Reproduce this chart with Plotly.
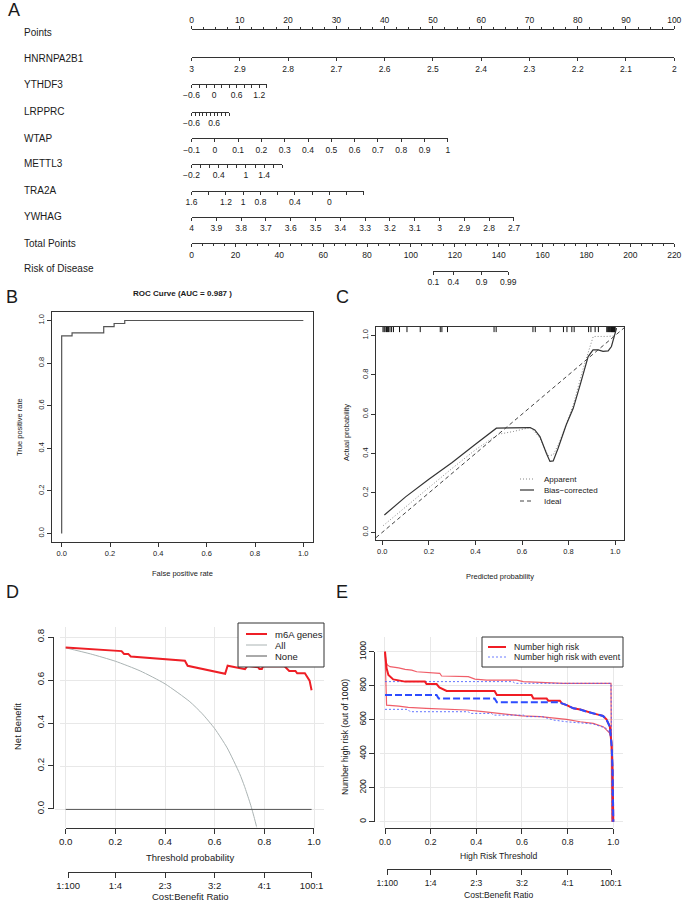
import plotly.graph_objects as go

W, H = 685, 904
FONT = "Liberation Sans, Arial, Helvetica, sans-serif"
INK = "#333333"
TXT = "#1a1a1a"

# ---------------- Panel A: nomogram data ----------------
nomo_names = ["Points", "HNRNPA2B1", "YTHDF3", "LRPPRC", "WTAP", "METTL3",
              "TRA2A", "YWHAG", "Total Points", "Risk of Disease"]

points_ticks = [0, 10, 20, 30, 40, 50, 60, 70, 80, 90, 100]
points_minor = [k * 2.5 for k in range(41) if k % 4]

hnrnpa2b1_ticks = [3.0, 2.9, 2.8, 2.7, 2.6, 2.5, 2.4, 2.3, 2.2, 2.1, 2.0]
hnrnpa2b1_labels = ["3", "2.9", "2.8", "2.7", "2.6", "2.5", "2.4", "2.3", "2.2", "2.1", "2"]
hnrnpa2b1_points = 100

ythdf3_ticks = [-0.6, -0.4, -0.2, 0.0, 0.2, 0.4, 0.6, 0.8, 1.0, 1.2, 1.4]
ythdf3_labels = ["\u22120.6", "", "", "0", "", "", "0.6", "", "", "1.2", ""]
ythdf3_points = 15.6

lrpprc_ticks = [-0.6, -0.4, -0.2, 0.0, 0.2, 0.4, 0.6, 0.8, 1.0, 1.2, 1.4]
lrpprc_labels = ["\u22120.6", "", "", "", "", "", "0.6", "", "", "", ""]
lrpprc_points = 7.8

wtap_ticks = [-0.1, 0.0, 0.1, 0.2, 0.3, 0.4, 0.5, 0.6, 0.7, 0.8, 0.9, 1.0]
wtap_labels = ["\u22120.1", "0", "0.1", "0.2", "0.3", "0.4", "0.5", "0.6", "0.7", "0.8", "0.9", "1"]
wtap_points = 53.1

mettl3_ticks = [-0.2, 0.0, 0.2, 0.4, 0.6, 0.8, 1.0, 1.2, 1.4, 1.6, 1.8]
mettl3_labels = ["\u22120.2", "", "", "0.4", "", "", "1", "", "1.4", "", ""]
mettl3_points = 18.8

tra2a_ticks = [1.6, 1.4, 1.2, 1.0, 0.8, 0.6, 0.4, 0.2, 0.0, -0.2, -0.4]
tra2a_labels = ["1.6", "", "1.2", "1", "0.8", "", "0.4", "", "0", "", ""]
tra2a_points = 35.7

ywhag_ticks = [4.0, 3.9, 3.8, 3.7, 3.6, 3.5, 3.4, 3.3, 3.2, 3.1, 3.0, 2.9, 2.8, 2.7]
ywhag_labels = ["4", "3.9", "3.8", "3.7", "3.6", "3.5", "3.4", "3.3", "3.2", "3.1", "3", "2.9", "2.8", "2.7"]
ywhag_points = 66.8

total_ticks = [0, 20, 40, 60, 80, 100, 120, 140, 160, 180, 200, 220]
total_minor = [v for v in range(0, 221, 5) if v % 20]

risk_labels = ["0.1", "0.4", "0.9", "0.99"]
risk_total_points = [110.2, 119.3, 132.2, 144.3]

# ---------------- Panel B: ROC ----------------
roc_fpr = [0.0, 0.0, 0.043, 0.174, 0.217, 0.261, 1.0]
roc_tpr = [0.0, 0.928, 0.942, 0.971, 0.986, 1.0, 1.0]

# ---------------- Panel C: calibration ----------------
cal_rug = [0.003, 0.008, 0.012, 0.018, 0.022, 0.027, 0.033, 0.040, 0.048, 0.074, 0.106,
           0.163, 0.249, 0.256, 0.280, 0.480, 0.489, 0.647, 0.657, 0.721, 0.778, 0.793,
           0.814, 0.824, 0.886, 0.896, 0.914, 0.928, 0.964, 0.968, 0.972, 0.975, 0.978,
           0.981, 0.984, 0.986, 0.988, 0.990, 0.992, 0.994, 0.996, 0.998, 1.0]
app_x = [0.004, 0.10, 0.205, 0.30, 0.40, 0.498, 0.562, 0.634, 0.655, 0.677, 0.70, 0.712,
         0.734, 0.762, 0.79, 0.82, 0.863, 0.906, 0.963, 1.0]
app_y = [0.034, 0.13, 0.232, 0.325, 0.419, 0.498, 0.512, 0.532, 0.51, 0.478, 0.42, 0.39,
         0.393, 0.461, 0.55, 0.647, 0.834, 0.995, 0.995, 0.998]
bc_x = [0.009, 0.10, 0.20, 0.30, 0.40, 0.49, 0.55, 0.635, 0.655, 0.677, 0.705, 0.72, 0.734,
        0.755, 0.79, 0.82, 0.85, 0.884, 0.905, 0.927, 0.948, 0.97, 0.984, 0.994, 1.006]
bc_y = [0.088, 0.18, 0.27, 0.355, 0.447, 0.529, 0.531, 0.532, 0.52, 0.486, 0.40, 0.36, 0.363,
        0.427, 0.546, 0.63, 0.75, 0.893, 0.927, 0.927, 0.919, 0.922, 0.944, 0.986, 1.037]
ideal_x = [-0.05, 1.05]
ideal_y = [-0.05, 1.05]
cal_legend = ["Apparent", "Bias\u2212corrected", "Ideal"]

# ---------------- Panel D: decision curve ----------------
dca_all_x = [0.0, 0.1, 0.2, 0.3, 0.4, 0.5, 0.55, 0.6, 0.65, 0.7, 0.72, 0.74, 0.75, 0.76, 0.77]
dca_all_y = [0.75, 0.722, 0.688, 0.643, 0.583, 0.5, 0.444, 0.375, 0.286, 0.167, 0.107, 0.038, 0.0, -0.042, -0.087]
dca_none_x = [0.0, 0.99]
dca_none_y = [0.0, 0.0]
dca_m6a_x = [0.0, 0.225, 0.235, 0.252, 0.262, 0.48, 0.491, 0.642, 0.652, 0.722, 0.732, 0.775,
             0.78, 0.79, 0.795, 0.88, 0.885, 0.9, 0.925, 0.932, 0.963, 0.972, 0.982, 0.99]
dca_m6a_y = [0.752, 0.735, 0.722, 0.722, 0.71, 0.69, 0.667, 0.63, 0.667, 0.651, 0.667, 0.66,
             0.652, 0.652, 0.665, 0.665, 0.66, 0.643, 0.643, 0.632, 0.632, 0.613, 0.598, 0.553]
dca_legend = ["m6A genes", "All", "None"]

cost_labels = ["1:100", "1:4", "2:3", "3:2", "4:1", "100:1"]
cost_thresholds = [0.0099, 0.2, 0.4, 0.6, 0.8, 0.9901]

# ---------------- Panel E: clinical impact ----------------
nhr_x = [0.0, 0.003, 0.007, 0.015, 0.036, 0.088, 0.175, 0.182, 0.226, 0.238, 0.27, 0.48, 0.49,
         0.642, 0.65, 0.708, 0.715, 0.766, 0.775, 0.796, 0.825, 0.855, 0.883, 0.912, 0.942,
         0.955, 0.97, 0.985, 0.993, 0.997, 1.0]
nhr_y = [1000, 940, 902, 863, 837, 824, 824, 810, 810, 790, 769, 769, 745, 745, 725, 725, 712,
         712, 696, 686, 667, 660, 647, 637, 627, 622, 602, 559, 441, 300, 0]
nhr_hi_x = [0.0, 0.004, 0.01, 0.022, 0.06, 0.088, 0.117, 0.139, 0.24, 0.248, 0.365, 0.394,
            0.445, 0.577, 0.606, 0.78, 0.99, 0.993]
nhr_hi_y = [1000, 940, 922, 912, 905, 896, 892, 882, 873, 857, 853, 839, 833, 833, 824, 814, 814, 0]
nhr_lo_x = [0.0, 0.005, 0.007, 0.06, 0.102, 0.18, 0.358, 0.43, 0.533, 0.6, 0.68, 0.795, 0.855,
            0.912, 0.956, 0.985, 0.993, 0.997]
nhr_lo_y = [1000, 800, 686, 680, 672, 667, 657, 647, 633, 622, 618, 602, 588, 578, 559, 520, 480, 0]
nev_x = [0.0, 0.226, 0.235, 0.48, 0.49, 0.766, 0.775, 0.796, 0.825, 0.855, 0.883, 0.912, 0.942,
         0.955, 0.97, 0.985, 0.993, 0.997, 1.0]
nev_y = [745, 745, 725, 725, 702, 702, 696, 686, 667, 660, 647, 637, 627, 622, 602, 559, 441, 300, 0]
nev_hi_x = [0.0, 0.56, 0.57, 0.99, 0.995]
nev_hi_y = [824, 824, 814, 814, 0]
nev_lo_x = [0.0, 0.1, 0.11, 0.365, 0.372, 0.467, 0.474, 0.606, 0.62, 0.69, 0.737, 0.795, 0.912,
            0.97, 0.985, 0.993, 0.997]
nev_lo_y = [661, 661, 647, 647, 637, 637, 627, 627, 618, 618, 598, 588, 575, 549, 520, 480, 0]
impact_legend = ["Number high risk", "Number high risk with event"]

tick01 = [0.0, 0.2, 0.4, 0.6, 0.8, 1.0]
tick01_txt = ["0.0", "0.2", "0.4", "0.6", "0.8", "1.0"]
tick08 = [0.0, 0.2, 0.4, 0.6, 0.8]
tick08_txt = ["0.0", "0.2", "0.4", "0.6", "0.8"]
tick1000 = [0, 200, 400, 600, 800, 1000]
tick1000_txt = ["0", "200", "400", "600", "800", "1000"]

# ======================= figure construction =======================
layout = dict(width=W, height=H, margin=dict(l=0, r=0, t=0, b=0, pad=0, autoexpand=False),
              paper_bgcolor="white", plot_bgcolor="white",
              font=dict(family=FONT, color=TXT), showlegend=False)
annotations = []
shapes = []
traces = []
n_ax = [0]

HIDDEN = dict(showline=False, showticklabels=False, showgrid=False, zeroline=False, ticks="")


def pair(xpx, ypx, xkw, ykw):
    n_ax[0] += 1
    s = "" if n_ax[0] == 1 else str(n_ax[0])
    xd = dict(domain=[xpx[0] / W, xpx[1] / W], anchor="y" + s, fixedrange=True, automargin=False)
    xd.update(xkw)
    yd = dict(domain=[1 - ypx[1] / H, 1 - ypx[0] / H], anchor="x" + s, fixedrange=True, automargin=False)
    yd.update(ykw)
    layout["xaxis" + s] = xd
    layout["yaxis" + s] = yd
    return "x" + s, "y" + s


def axis_style(size, ticklen=4, **kw):
    d = dict(showline=True, linecolor=INK, linewidth=1, ticks="outside", ticklen=ticklen,
             tickwidth=1, tickcolor=INK, showgrid=False, zeroline=False, tickmode="array",
             tickfont=dict(size=size, family=FONT, color=TXT))
    d.update(kw)
    return d


def pad(r):
    e = (r[1] - r[0]) * 1e-4
    return [r[0] - e, r[1] + e]


def anchor_trace(xn, yn, x, y):
    traces.append(go.Scatter(x=[x], y=[y], xaxis=xn, yaxis=yn, mode="markers",
                             marker=dict(size=1, opacity=0), hoverinfo="skip", showlegend=False))


def text(x, y, s, size, angle=0, xanchor="center", bold=False):
    annotations.append(dict(x=x / W, y=1 - y / H, xref="paper", yref="paper",
                            text=("<b>%s</b>" % s) if bold else s, showarrow=False,
                            xanchor=xanchor, yanchor="middle", textangle=angle,
                            font=dict(size=size, family=FONT, color=TXT)))


def legend_box(x0, y0, x1, y1):
    shapes.append(dict(type="rect", xref="paper", yref="paper", layer="above",
                       x0=x0 / W, x1=x1 / W, y0=1 - y1 / H, y1=1 - y0 / H,
                       fillcolor="white", line=dict(color=INK, width=1)))


def legend_key(x0, x1, y, color, width, dash="solid"):
    shapes.append(dict(type="line", xref="paper", yref="paper", layer="above",
                       x0=x0 / W, x1=x1 / W, y0=1 - y / H, y1=1 - y / H,
                       line=dict(color=color, width=width, dash=dash)))


# ---------------- Panel A ----------------
A_X0, A_PPP = 191.5, 4.828
A_LINE_Y = [30, 57.3, 84, 111.7, 138.3, 164, 190.7, 216.7, 243.3, 270.7]
A_LABEL_Y = [32, 58.5, 85, 112, 138.5, 164, 190, 216, 243, 269]


def nomo_row(line_y, vrange, x0px, x1px, tickvals, ticktext, side="bottom", minor=None):
    ypx = (line_y - 1, line_y) if side == "bottom" else (line_y, line_y + 1)
    xkw = axis_style(8.5, 3, range=pad(vrange), tickvals=tickvals, ticktext=ticktext, side=side)
    if minor:
        xkw["minor"] = dict(tickmode="array", tickvals=minor, ticks="outside", ticklen=1.8,
                            tickcolor=INK, tickwidth=1)
    xn, yn = pair((x0px, x1px), ypx, xkw, dict(HIDDEN, range=[0, 1]))
    anchor_trace(xn, yn, vrange[0], 0.5)


nomo_row(A_LINE_Y[0], [0, 100], A_X0, A_X0 + 100 * A_PPP, points_ticks,
         [str(v) for v in points_ticks], side="top", minor=points_minor)
var_rows = [
    (hnrnpa2b1_ticks, hnrnpa2b1_labels, hnrnpa2b1_points),
    (ythdf3_ticks, ythdf3_labels, ythdf3_points),
    (lrpprc_ticks, lrpprc_labels, lrpprc_points),
    (wtap_ticks, wtap_labels, wtap_points),
    (mettl3_ticks, mettl3_labels, mettl3_points),
    (tra2a_ticks, tra2a_labels, tra2a_points),
    (ywhag_ticks, ywhag_labels, ywhag_points),
]
for i, (tv, tt, pts) in enumerate(var_rows):
    nomo_row(A_LINE_Y[i + 1], [tv[0], tv[-1]], A_X0, A_X0 + pts * A_PPP, tv, tt)

TP_PPU = 100 * A_PPP / 220.0
nomo_row(A_LINE_Y[8], [0, 220], A_X0, A_X0 + 220 * TP_PPU, total_ticks,
         [str(v) for v in total_ticks], minor=total_minor)
nomo_row(A_LINE_Y[9], [risk_total_points[0], risk_total_points[-1]],
         A_X0 + risk_total_points[0] * TP_PPU, A_X0 + risk_total_points[-1] * TP_PPU,
         risk_total_points, risk_labels)

for name, ly in zip(nomo_names, A_LABEL_Y):
    text(22, ly, name, 10, xanchor="left")

# ---------------- Panel B ----------------
xb, yb = pair((52, 313), (312, 542),
              axis_style(7.5, 4, range=[-0.04, 1.04], tickvals=tick01, ticktext=tick01_txt, mirror=True),
              axis_style(7.5, 4, range=[-0.04, 1.04], tickvals=tick01, ticktext=tick01_txt, mirror=True,
                         tickangle=-90))
traces.append(go.Scatter(x=roc_fpr, y=roc_tpr, xaxis=xb, yaxis=yb, mode="lines", line_shape="hv",
                         line=dict(color="#555555", width=1.2), showlegend=False, hoverinfo="skip"))
text(183, 293, "ROC Curve (AUC = 0.987 )", 8, bold=True)
text(182, 573, "False positive rate", 7.5)
text(20, 427, "True positive rate", 7.5, angle=-90)

# ---------------- Panel C ----------------
xc, yc = pair((376, 624), (327, 540),
              axis_style(7.5, 4, range=[-0.027, 1.038], tickvals=tick01, ticktext=tick01_txt, mirror=True),
              axis_style(7.5, 4, range=[-0.039, 1.043], tickvals=tick01, ticktext=tick01_txt, mirror=True,
                         tickangle=-90))
rug_x, rug_y = [], []
for v in cal_rug:
    rug_x += [v, v, None]
    rug_y += [1.043, 1.017, None]
C_STYLES = [dict(color="#888888", width=1, dash="1px,2px"),
            dict(color="#333333", width=1.2, dash="solid"),
            dict(color="#444444", width=1, dash="4px,3px")]
traces.append(go.Scatter(x=rug_x, y=rug_y, xaxis=xc, yaxis=yc, mode="lines",
                         line=dict(color="#111111", width=1), showlegend=False, hoverinfo="skip"))
for xs, ys, st in zip([app_x, bc_x, ideal_x], [app_y, bc_y, ideal_y], C_STYLES):
    traces.append(go.Scatter(x=xs, y=ys, xaxis=xc, yaxis=yc, mode="lines", line=st,
                             showlegend=False, hoverinfo="skip"))
for k, (lab, st) in enumerate(zip(cal_legend, C_STYLES)):
    yy = 479 + 11 * k
    legend_key(520, 534, yy, st["color"], st["width"], st["dash"])
    text(542, yy, lab, 8, xanchor="left")
text(500, 576, "Predicted probability", 7.5)
text(346, 433, "Actual probability", 7.5, angle=-90)

# ---------------- Panel D ----------------
GRID = dict(showline=False, ticks="", showticklabels=False, zeroline=False, showgrid=True,
            gridcolor="#e8e8e8", gridwidth=1, tickmode="array")
D_X0, D_PPU = 65.7, 248.3
xd, yd = pair((55, 324), (627, 827.5), dict(GRID, range=[-0.043, 1.040], tickvals=tick01),
              dict(GRID, range=[-0.084, 0.847], tickvals=tick08))
D_STYLES = [dict(color="#ee1f26", width=2), dict(color="#aab3b3", width=1),
            dict(color="#555555", width=1)]
traces.append(go.Scatter(x=dca_all_x, y=dca_all_y, xaxis=xd, yaxis=yd, mode="lines",
                         line=dict(D_STYLES[1], shape="spline", smoothing=0.6),
                         showlegend=False, hoverinfo="skip"))
traces.append(go.Scatter(x=dca_none_x, y=dca_none_y, xaxis=xd, yaxis=yd, mode="lines",
                         line=D_STYLES[2], showlegend=False, hoverinfo="skip"))
traces.append(go.Scatter(x=dca_m6a_x, y=dca_m6a_y, xaxis=xd, yaxis=yd, mode="lines",
                         line=D_STYLES[0], showlegend=False, hoverinfo="skip"))
legend_box(238, 623, 324, 667)
for k, (lab, st) in enumerate(zip(dca_legend, D_STYLES)):
    yy = 634 + 11 * k
    legend_key(246, 267, yy, st["color"], st["width"])
    text(273, yy, lab, 9.5, xanchor="left")
# y axis line
xn, yn = pair((54.3, 60), (637, 809), dict(HIDDEN, range=[0, 1]),
              axis_style(9.8, 5, range=pad([0, 0.8]), tickvals=tick08, ticktext=tick08_txt, tickangle=-90))
anchor_trace(xn, yn, 0.5, 0.4)
# threshold axis
xn, yn = pair((D_X0, D_X0 + D_PPU), (826.5, 827.5),
              axis_style(9.8, 5, range=pad([0, 1]), tickvals=tick01, ticktext=tick01_txt),
              dict(HIDDEN, range=[0, 1]))
anchor_trace(xn, yn, 0.5, 0.5)
# cost:benefit axis
xn, yn = pair((D_X0 + cost_thresholds[0] * D_PPU, D_X0 + cost_thresholds[-1] * D_PPU), (871, 872),
              axis_style(9.5, 5, range=pad([cost_thresholds[0], cost_thresholds[-1]]),
                         tickvals=cost_thresholds, ticktext=cost_labels),
              dict(HIDDEN, range=[0, 1]))
anchor_trace(xn, yn, 0.5, 0.5)
text(190, 857, "Threshold probability", 9.5)
text(190, 896, "Cost:Benefit Ratio", 9.5)
text(17, 727, "Net Benefit", 9.5, angle=-90)

# ---------------- Panel E ----------------
E_FS = 8.6
E_X0, E_PPU = 385.0, 228.3
xe, ye = pair((377, 623), (637.3, 828.3), dict(GRID, range=[-0.035, 1.0425], tickvals=tick01),
              dict(GRID, range=[-38.8, 1084.7], tickvals=tick1000))
CI_RED = "rgba(235,40,55,0.75)"
CI_BLUE = "rgba(70,90,255,0.85)"
traces.append(go.Scatter(x=nhr_hi_x, y=nhr_hi_y, xaxis=xe, yaxis=ye, mode="lines",
                         line=dict(color=CI_RED, width=1.2), showlegend=False, hoverinfo="skip"))
traces.append(go.Scatter(x=nhr_lo_x, y=nhr_lo_y, xaxis=xe, yaxis=ye, mode="lines",
                         line=dict(color=CI_RED, width=1.2), showlegend=False, hoverinfo="skip"))
traces.append(go.Scatter(x=nev_hi_x, y=nev_hi_y, xaxis=xe, yaxis=ye, mode="lines",
                         line=dict(color=CI_BLUE, width=1, dash="2px,2px"), showlegend=False,
                         hoverinfo="skip"))
traces.append(go.Scatter(x=nev_lo_x, y=nev_lo_y, xaxis=xe, yaxis=ye, mode="lines",
                         line=dict(color=CI_BLUE, width=1, dash="2px,2px"), showlegend=False,
                         hoverinfo="skip"))
traces.append(go.Scatter(x=nhr_x, y=nhr_y, xaxis=xe, yaxis=ye, mode="lines",
                         line=dict(color="#f01c24", width=2), showlegend=False, hoverinfo="skip"))
traces.append(go.Scatter(x=nev_x, y=nev_y, xaxis=xe, yaxis=ye, mode="lines",
                         line=dict(color="#2d4cff", width=2, dash="7px,3px"), showlegend=False,
                         hoverinfo="skip"))
legend_box(482, 637, 623, 667)
E_KEYS = [dict(color="#f01c24", width=2, dash="solid"), dict(color="#6c7dff", width=1, dash="2px,2px")]
for k, (lab, st) in enumerate(zip(impact_legend, E_KEYS)):
    yy = 647 + 10 * k
    legend_key(488, 506, yy, st["color"], st["width"], st["dash"])
    text(512, yy, lab, E_FS, xanchor="left")
xn, yn = pair((375, 380), (651.7, 821.7), dict(HIDDEN, range=[0, 1]),
              axis_style(E_FS, 5, range=pad([0, 1000]), tickvals=tick1000, ticktext=tick1000_txt,
                         tickangle=-90))
anchor_trace(xn, yn, 0.5, 500)
xn, yn = pair((E_X0, E_X0 + E_PPU), (827.3, 828.3),
              axis_style(E_FS, 5, range=pad([0, 1]), tickvals=tick01, ticktext=tick01_txt),
              dict(HIDDEN, range=[0, 1]))
anchor_trace(xn, yn, 0.5, 0.5)
xn, yn = pair((E_X0 + cost_thresholds[0] * E_PPU, E_X0 + cost_thresholds[-1] * E_PPU), (868.3, 869.3),
              axis_style(E_FS, 5, range=pad([cost_thresholds[0], cost_thresholds[-1]]),
                         tickvals=cost_thresholds, ticktext=cost_labels),
              dict(HIDDEN, range=[0, 1]))
anchor_trace(xn, yn, 0.5, 0.5)
text(499, 856, "High Risk Threshold", E_FS)
text(499, 895, "Cost:Benefit Ratio", E_FS)
text(345, 737, "Number high risk (out of 1000)", E_FS, angle=-90)

# ---------------- panel letters ----------------
for lab, (px, py) in zip("ABCDE", [(14, 10), (12, 297), (342, 297), (12, 592), (342, 592)]):
    annotations.append(dict(x=px / W, y=1 - py / H, xref="paper", yref="paper", text=lab,
                            showarrow=False, xanchor="center", yanchor="middle",
                            font=dict(size=18, family=FONT, color=TXT)))

layout["annotations"] = annotations
layout["shapes"] = shapes
fig = go.Figure(data=traces, layout=layout)
fig.write_html("out.html", config={"displayModeBar": False},
               post_script="document.body.style.margin='0px';document.body.style.padding='0px';"
                           "document.body.style.overflow='hidden';")
